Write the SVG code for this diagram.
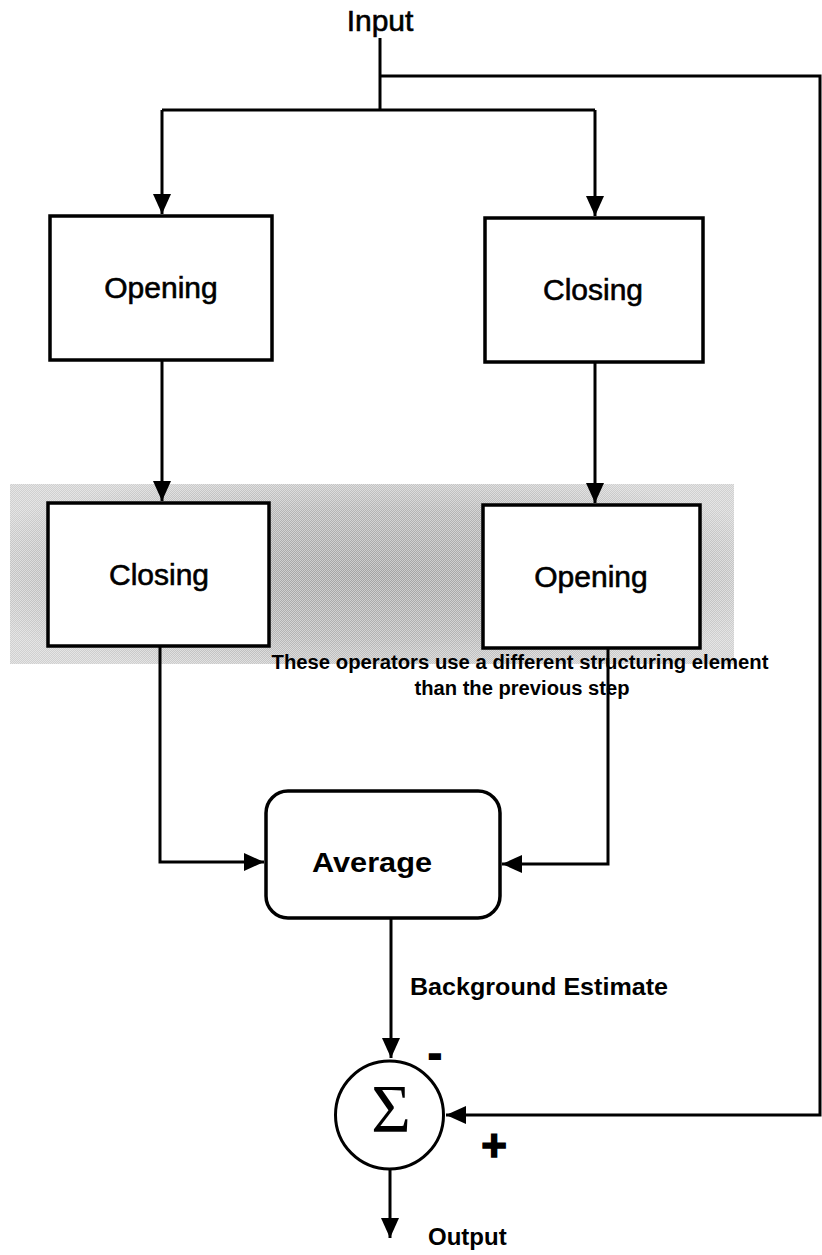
<svg xmlns="http://www.w3.org/2000/svg" width="822" height="1255" viewBox="0 0 822 1255">
<defs>
<style>
.box{fill:#fff;stroke:#000;stroke-width:3.5}
.ln{fill:none;stroke:#000;stroke-width:3}
.lbl{font-family:"Liberation Sans",Arial,sans-serif;font-size:30px;fill:#000;text-anchor:middle;stroke:#000;stroke-width:0.6}
.b{font-family:"Liberation Sans",Arial,sans-serif;font-weight:bold;fill:#000}
</style>
<marker id="ah" markerUnits="userSpaceOnUse" markerWidth="20" markerHeight="18" refX="20" refY="9" orient="auto">
<path d="M0,0 L20,9 L0,18 z" fill="#000"/>
</marker>
<radialGradient id="shadeG" cx="0.5" cy="0.5" r="0.6">
<stop offset="0" stop-color="#a2a2a2"/>
<stop offset="0.6" stop-color="#b4b4b4"/>
<stop offset="1" stop-color="#d0d0d0"/>
</radialGradient>
<pattern id="dither" width="2" height="2" patternUnits="userSpaceOnUse">
<rect x="0" y="0" width="1" height="1" fill="#fff"/>
<rect x="1" y="1" width="1" height="1" fill="#fff"/>
</pattern>
</defs>
<rect width="822" height="1255" fill="#fff"/>

<g id="shade">
<rect x="10" y="484" width="724" height="180" fill="url(#shadeG)"/>
<rect x="10" y="484" width="724" height="180" fill="url(#dither)" opacity="0.45"/>
</g>

<g id="connectors">
<path class="ln" d="M380,38 V110"/>
<path class="ln" d="M380,76 H820 V1115 H446" marker-end="url(#ah)"/>
<path class="ln" d="M162,110 H595"/>
<path class="ln" d="M162,110 V214" marker-end="url(#ah)"/>
<path class="ln" d="M595,110 V216" marker-end="url(#ah)"/>
<path class="ln" d="M162,360 V501" marker-end="url(#ah)"/>
<path class="ln" d="M595,362 V503" marker-end="url(#ah)"/>
<path class="ln" d="M160,646 V862 H264" marker-end="url(#ah)"/>
<path class="ln" d="M608,648 V864 H502" marker-end="url(#ah)"/>
<path class="ln" d="M391,918 V1058" marker-end="url(#ah)"/>
<path class="ln" d="M390,1170 V1238" marker-end="url(#ah)"/>
</g>

<g id="input">
<text class="lbl" x="380" y="31">Input</text>
</g>

<g id="opening1">
<rect class="box" x="50" y="216" width="222" height="144"/>
<text class="lbl" x="161" y="298">Opening</text>
</g>

<g id="closing1">
<rect class="box" x="485" y="218" width="218" height="144"/>
<text class="lbl" x="593" y="300">Closing</text>
</g>

<g id="closing2">
<rect class="box" x="48" y="503" width="221" height="143"/>
<text class="lbl" x="159" y="585">Closing</text>
</g>

<g id="opening2">
<rect class="box" x="483" y="505" width="217" height="143"/>
<text class="lbl" x="591" y="587">Opening</text>
</g>

<g id="note">
<text class="b" x="520" y="669" font-size="20" text-anchor="middle" textLength="497" lengthAdjust="spacingAndGlyphs">These operators use a different structuring element</text>
<text class="b" x="522" y="695" font-size="20" text-anchor="middle" textLength="215" lengthAdjust="spacingAndGlyphs">than the previous step</text>
</g>

<g id="average">
<rect class="box" x="266" y="791" width="234" height="127" rx="22" ry="22"/>
<text class="b" x="372" y="872" font-size="28" text-anchor="middle" textLength="120" lengthAdjust="spacingAndGlyphs">Average</text>
</g>

<g id="bg-label">
<text class="b" x="410" y="995" font-size="24" textLength="258" lengthAdjust="spacingAndGlyphs">Background  Estimate</text>
</g>

<g id="sum">
<circle cx="389.5" cy="1115" r="54" fill="#fff" stroke="#000" stroke-width="3"/>
<text x="391" y="1131" font-family="Liberation Serif, Times New Roman, serif" font-size="68" text-anchor="middle">Σ</text>
<text class="b" x="435" y="1067" font-size="40" text-anchor="middle" stroke="#000" stroke-width="2">-</text>
<text class="b" x="494" y="1161" font-size="44" text-anchor="middle" stroke="#000" stroke-width="1.5">+</text>
</g>

<g id="output">
<text class="b" x="428" y="1245" font-size="24">Output</text>
</g>
</svg>
